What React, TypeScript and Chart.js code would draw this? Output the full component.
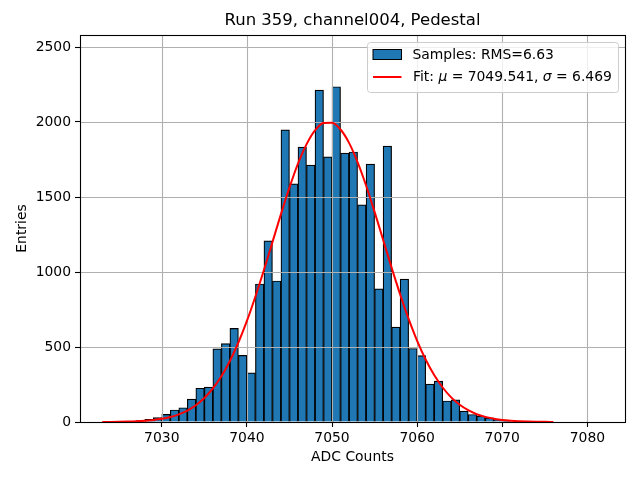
import { useEffect, useRef } from 'react';
import { Chart, registerables } from 'chart.js';

Chart.register(...registerables);

// histogram bins (left edge, width 1 ADC count) and entries
const binLeft = [
  7026, 7027, 7028, 7029, 7030, 7031, 7032, 7033, 7034, 7035,
  7036, 7037, 7038, 7039, 7040, 7041, 7042, 7043, 7044, 7045,
  7046, 7047, 7048, 7049, 7050, 7051, 7052, 7053, 7054, 7055,
  7056, 7057, 7058, 7059, 7060, 7061, 7062, 7063, 7064, 7065,
  7066, 7067, 7068, 7069, 7070,
];
const entries = [
  4, 9, 18, 29, 51, 80, 95, 153, 225, 232,
  487, 522, 624, 444, 327, 920, 1207, 940, 1947, 1587,
  1833, 1713, 2212, 1767, 2235, 1792, 1800, 1447, 1719, 887,
  1839, 633, 952, 490, 442, 252, 272, 140, 147, 72,
  50, 39, 27, 16, 6,
];

// fitted curve
const fitX = [
  7023, 7024, 7025, 7026, 7027, 7028, 7029, 7030, 7031, 7032,
  7033, 7034, 7035, 7036, 7037, 7038, 7039, 7040, 7041, 7042,
  7043, 7044, 7045, 7046, 7047, 7048, 7049, 7050, 7051, 7052,
  7053, 7054, 7055, 7056, 7057, 7058, 7059, 7060, 7061, 7062,
  7063, 7064, 7065, 7066, 7067, 7068, 7069, 7070, 7071, 7072,
  7073, 7074, 7075, 7076,
];
const fitY = [
  0.4, 0.8, 1.5, 2.7, 4.6, 7.8, 13, 21, 33, 51,
  76, 112, 160, 224, 305, 407, 530, 674, 837, 1013,
  1199, 1386, 1563, 1722, 1851, 1944, 1993, 1995, 1950, 1861,
  1733, 1577, 1401, 1215, 1029, 851, 687, 541, 417, 313,
  230, 164, 115, 79, 52, 34, 22, 13, 8, 5,
  3, 1.6, 0.9, 0.5,
];

const xTicks = [7030, 7040, 7050, 7060, 7070, 7080];
const yTicks = [0, 500, 1000, 1500, 2000, 2500];

const title = 'Run 359, channel004, Pedestal';
const xTitle = 'ADC Counts';
const yTitle = 'Entries';
const sampleLabel = 'Samples: RMS=6.63';
const fitMu = '7049.541';
const fitSigma = '6.469';

const FONT = '"DejaVu Sans", sans-serif';

const decor = {
  id: 'decor',
  beforeDatasetDraw(chart: any, args: any) {
    // grid sits above the bars, below the fit line
    if (args.index !== 1) return;
    const { ctx, chartArea: a, scales } = chart;
    ctx.save();
    ctx.strokeStyle = '#b0b0b0';
    ctx.lineWidth = 1.1;
    ctx.beginPath();
    xTicks.forEach((v) => {
      const px = Math.round(scales.x.getPixelForValue(v)) + 0.5;
      ctx.moveTo(px, a.top);
      ctx.lineTo(px, a.bottom);
    });
    yTicks.forEach((v) => {
      const py = Math.round(scales.y.getPixelForValue(v)) + 0.5;
      ctx.moveTo(a.left, py);
      ctx.lineTo(a.right, py);
    });
    ctx.stroke();
    ctx.restore();
  },
  afterDraw(chart: any) {
    const { ctx, chartArea: a } = chart;
    ctx.save();
    // spines
    ctx.strokeStyle = '#000';
    ctx.lineWidth = 1.1;
    ctx.strokeRect(a.left + 0.5, a.top + 0.5, a.right - a.left, a.bottom - a.top);

    // title and axis labels
    ctx.fillStyle = '#000';
    ctx.textAlign = 'center';
    ctx.textBaseline = 'middle';
    ctx.font = `16.5px ${FONT}`;
    ctx.fillText(title, (a.left + a.right) / 2, 21);
    ctx.font = `13.9px ${FONT}`;
    ctx.fillText(xTitle, (a.left + a.right) / 2, 457);
    ctx.save();
    ctx.translate(22, (a.top + a.bottom) / 2);
    ctx.rotate(-Math.PI / 2);
    ctx.fillText(yTitle, 0, 0);
    ctx.restore();

    // legend
    const bx = 367.5, by = 42.5, bw = 251, bh = 50, r = 3;
    ctx.beginPath();
    ctx.moveTo(bx + r, by);
    ctx.arcTo(bx + bw, by, bx + bw, by + bh, r);
    ctx.arcTo(bx + bw, by + bh, bx, by + bh, r);
    ctx.arcTo(bx, by + bh, bx, by, r);
    ctx.arcTo(bx, by, bx + bw, by, r);
    ctx.closePath();
    ctx.fillStyle = 'rgba(255,255,255,0.8)';
    ctx.fill();
    ctx.strokeStyle = '#cccccc';
    ctx.lineWidth = 1;
    ctx.stroke();

    ctx.fillStyle = '#1f77b4';
    ctx.fillRect(373, 49.5, 28.5, 10);
    ctx.strokeStyle = '#000';
    ctx.lineWidth = 1;
    ctx.strokeRect(373, 49.5, 28.5, 10);

    ctx.strokeStyle = 'red';
    ctx.lineWidth = 2;
    ctx.beginPath();
    ctx.moveTo(373, 77);
    ctx.lineTo(401.5, 77);
    ctx.stroke();

    ctx.fillStyle = '#000';
    ctx.textAlign = 'left';
    ctx.font = `13.9px ${FONT}`;
    ctx.fillText(sampleLabel, 412.5, 55);

    const parts: [string, boolean][] = [
      ['Fit: ', false],
      ['\u03bc', true],
      [` = ${fitMu}, `, false],
      ['\u03c3', true],
      [` = ${fitSigma}`, false],
    ];
    let tx = 413;
    parts.forEach(([s, it]) => {
      ctx.font = `${it ? 'oblique ' : ''}13.9px ${FONT}`;
      ctx.fillText(s, tx, 77);
      tx += ctx.measureText(s).width;
    });
    ctx.restore();
  },
};

export default function App() {
  const canvasRef = useRef<HTMLCanvasElement>(null);

  useEffect(() => {
    document.body.style.margin = '0';
    if (!canvasRef.current) return;

    const chart = new Chart(canvasRef.current, {
      type: 'bar',
      data: {
        datasets: [
          {
            type: 'bar',
            label: sampleLabel,
            data: binLeft.map((b, i) => ({ x: b + 0.5, y: entries[i] })),
            backgroundColor: '#1f77b4',
            borderColor: '#000',
            borderWidth: 1.2,
            barPercentage: 1,
            categoryPercentage: 1,
            order: 1,
          },
          {
            type: 'line',
            label: 'Fit',
            data: fitX.map((x, i) => ({ x, y: fitY[i] })),
            borderColor: 'red',
            borderWidth: 2,
            pointRadius: 0,
            cubicInterpolationMode: 'monotone',
            fill: false,
            order: 0,
          },
        ] as any,
      },
      options: {
        responsive: false,
        animation: false,
        devicePixelRatio: 1,
        layout: { padding: { top: 35, right: 15, left: 0, bottom: 0 } },
        plugins: {
          legend: { display: false },
          title: { display: false },
          tooltip: { enabled: false },
        },
        scales: {
          x: {
            type: 'linear',
            min: 7020.39,
            max: 7084.42,
            offset: false,
            afterFit: (s: any) => { s.height = 58; },
            afterBuildTicks: (s: any) => { s.ticks = xTicks.map((value) => ({ value })); },
            grid: { offset: false, color: 'transparent', tickColor: '#000', tickLength: 5, tickWidth: 1.1 },
            border: { display: false },
            ticks: {
              color: '#000',
              font: { family: FONT, size: 13.9 },
              padding: 3,
              maxRotation: 0,
              callback: (v: any) => String(v),
            },
          },
          y: {
            type: 'linear',
            min: 0,
            max: 2580,
            afterFit: (s: any) => { s.width = 80; },
            afterBuildTicks: (s: any) => { s.ticks = yTicks.map((value) => ({ value })); },
            grid: { offset: false, color: 'transparent', tickColor: '#000', tickLength: 5, tickWidth: 1.1 },
            border: { display: false },
            ticks: {
              color: '#000',
              font: { family: FONT, size: 13.9 },
              padding: 4,
              callback: (v: any) => String(v),
            },
          },
        },
      },
      plugins: [decor],
    });

    return () => chart.destroy();
  }, []);

  return <canvas ref={canvasRef} width={640} height={480} />;
}
